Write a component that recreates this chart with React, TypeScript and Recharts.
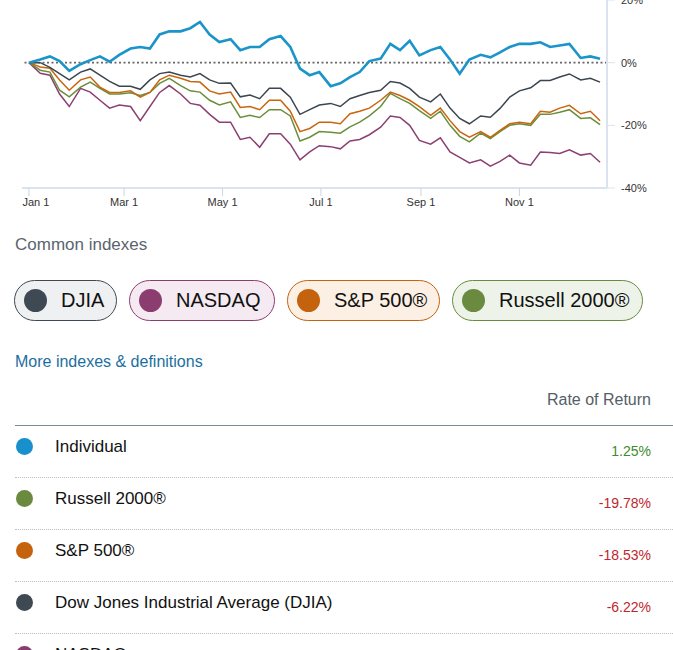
import { LineChart, Line, XAxis, YAxis, ReferenceLine } from 'recharts'

// day of year for each sample (2022, roughly weekly)
const days = [0, 7, 13, 19, 25, 32, 38, 44, 50, 56, 63, 69, 75, 81, 87, 94, 100, 106, 112, 118, 125, 131, 137, 143, 149, 156, 162, 168, 174, 180, 187, 193, 199, 205, 211, 218, 224, 230, 236, 242, 249, 255, 261, 267, 273, 280, 286, 292, 298, 304, 311, 317, 323, 329, 335, 342, 348, 354]

const individual = [0, 1.0, 2, 0.5, -2.6, -0.5, 0.8, 2, 0.3, 2.5, 4.5, 5, 4.5, 9, 10, 10, 11, 13, 9, 6.6, 7.5, 4, 5, 5, 7.5, 8.5, 5, -1.9, -4, -3, -7.5, -6.6, -4.6, -3, 0.5, 1.3, 6, 4, 7, 2.3, 4, 5, 1, -3.5, 1, 2.5, 1.7, 3.3, 5, 6, 6, 6.5, 5, 5.5, 6, 1.5, 2, 1.25]
const djia = [0, 0, -1.5, -3.5, -5.5, -3, -2, -4, -6, -7.5, -7.5, -8.5, -5.5, -3.5, -3, -4, -4.6, -3.5, -5.5, -6.6, -6.5, -10.9, -10.3, -11.5, -8.2, -8.2, -11, -16.5, -15, -13.5, -13, -14, -11.5, -10.5, -9.5, -8.8, -6, -6.5, -8.2, -11, -12.5, -10, -14.5, -17.8, -19.5, -17, -17.4, -14.6, -11, -9, -8, -5.7, -5.7, -4.6, -3.6, -5.5, -5, -6.22]
const sp500 = [0, -1.4, -1.8, -5.5, -8.8, -5.5, -4.6, -7.8, -9.5, -9.5, -9, -11, -9.5, -5.5, -4, -5, -6, -6.2, -9, -10, -9.4, -14.3, -14, -15, -12, -12, -15.5, -22, -21, -19, -19, -19.5, -16.3, -15.5, -14.5, -12, -9.4, -10.5, -12, -14, -16.8, -14.5, -18.5, -22, -23.8, -22, -23.8, -21.6, -19.5, -19, -19.5, -15.5, -15.8, -14.5, -13.6, -16.3, -15.5, -18.53]
const russell = [0, -2.4, -3, -8.8, -10.9, -7.8, -6.2, -8.2, -10, -10, -9.6, -10.5, -9.5, -6.6, -5, -7.3, -9, -9.4, -12, -13.5, -12.5, -17.5, -16.8, -17.5, -15, -15, -17, -25, -23.8, -22, -22.2, -22.5, -20.5, -19, -17, -14, -9.8, -11.5, -13, -15.3, -17.8, -15.5, -20, -23.5, -25.3, -22.5, -24.2, -22, -20, -19.5, -20, -16.5, -16.5, -15.8, -15, -17.8, -17.6, -19.78]
const nasdaq = [0, -3.4, -4, -10, -14, -8.2, -9.4, -12, -14.5, -13.5, -14, -18.5, -14, -9.5, -7.3, -10, -13, -13.6, -16.5, -19, -19, -24.5, -23.8, -27, -22.7, -22.7, -26, -31, -28.5, -26.5, -26.8, -27.5, -25, -24.5, -23, -20.6, -17, -17.5, -20, -24.8, -26, -24, -28.5, -30.2, -32, -31, -33, -31.5, -29.5, -32, -32.7, -28.5, -28.7, -29, -27.8, -29.5, -29, -31.8]

const xTicks = [0, 59, 120, 181, 243, 304]
const xTickLabels = ['Jan 1', 'Mar 1', 'May 1', 'Jul 1', 'Sep 1', 'Nov 1']
const yTicks = [-40, -20, 0, 20]

const pillNames = ['DJIA', 'NASDAQ', 'S&P 500®', 'Russell 2000®']
const pillColors = ['#3e4954', '#8b3d6f', '#c4620e', '#6a8a3f']
const pillBgs = ['#eef0f2', '#f6eaf2', '#fcefe3', '#eef3e9']
const pillWidths = [103, 146, 153, 191]

const rowNames = ['Individual', 'Russell 2000®', 'S&P 500®', 'Dow Jones Industrial Average (DJIA)', 'NASDAQ']
const rowColors = ['#1790cc', '#6a8a3f', '#c4620e', '#3e4954', '#8b3d6f']
const rowValues = ['1.25%', '-19.78%', '-18.53%', '-6.22%', '-31.88%']

const data = days.map((d, i) => ({
  day: d,
  individual: individual[i],
  djia: djia[i],
  sp500: sp500[i],
  russell: russell[i],
  nasdaq: nasdaq[i],
}))

const font = '"Liberation Sans", Arial, sans-serif'

// first label is kept inside the plot, the rest are centred on their tick
function XTick(props: any) {
  const { x, y, payload } = props
  const first = payload.value === xTicks[0]
  return (
    <text x={first ? x - 6.5 : x} y={y} dy="0.71em" textAnchor={first ? 'start' : 'middle'} fill="#333" fontSize={11} fontFamily={font}>
      {xTickLabels[xTicks.indexOf(payload.value)]}
    </text>
  )
}

export default function App() {
  return (
    <div style={{ position: 'relative', width: 673, height: 650, overflow: 'hidden', fontFamily: font, color: '#111' }}>
      <style>{'body{margin:0}'}</style>
      <div style={{ position: 'absolute', top: -10, left: 0 }}>
        <LineChart width={673} height={230} data={data} margin={{ top: 10, right: 0, bottom: 0, left: 22 }}>
          <XAxis
            dataKey="day"
            type="number"
            domain={[-4.3, 358.3]}
            ticks={xTicks}
            height={32}
            tickSize={8}
            tickMargin={2}
            axisLine={{ stroke: '#dbe3f0', strokeWidth: 2 }}
            tickLine={{ stroke: '#c9d5e6' }}
            tick={<XTick />}
          />
          <YAxis
            orientation="right"
            domain={[-40, 20]}
            ticks={yTicks}
            width={66}
            tickSize={8}
            tickMargin={6}
            tickFormatter={(v) => v + '%'}
            axisLine={{ stroke: '#dbe3f0', strokeWidth: 2 }}
            tickLine={{ stroke: '#dbe3f0' }}
            tick={{ fill: '#333', fontSize: 11, fontFamily: font }}
          />
          <ReferenceLine y={0} stroke="#666" strokeWidth={1.6} strokeDasharray="2 2.5" />
          <Line dataKey="nasdaq" stroke="#8c3f72" strokeWidth={1.5} dot={false} type="linear" isAnimationActive={false} />
          <Line dataKey="russell" stroke="#6b8e3a" strokeWidth={1.5} dot={false} type="linear" isAnimationActive={false} />
          <Line dataKey="sp500" stroke="#c8650f" strokeWidth={1.5} dot={false} type="linear" isAnimationActive={false} />
          <Line dataKey="djia" stroke="#3b4651" strokeWidth={1.5} dot={false} type="linear" isAnimationActive={false} />
          <Line dataKey="individual" stroke="#1a94c9" strokeWidth={2.6} dot={false} type="linear" isAnimationActive={false} />
        </LineChart>
      </div>

      <div style={{ position: 'absolute', top: 235, left: 15, fontSize: 17, lineHeight: '20px', color: '#5b646d' }}>Common indexes</div>

      <div style={{ position: 'absolute', top: 280, left: 14, display: 'flex', gap: 12 }}>
        {pillNames.map((n, i) => (
          <div
            key={n}
            style={{
              boxSizing: 'border-box',
              width: pillWidths[i],
              height: 41,
              borderRadius: 21,
              border: '1px solid ' + pillColors[i],
              background: pillBgs[i],
              display: 'flex',
              alignItems: 'center',
              paddingLeft: 9,
            }}
          >
            <span style={{ width: 23, height: 23, borderRadius: '50%', background: pillColors[i], display: 'inline-block', flex: 'none' }} />
            <span style={{ marginLeft: 14, fontSize: 20, color: '#111', whiteSpace: 'nowrap' }}>{n}</span>
          </div>
        ))}
      </div>

      <div style={{ position: 'absolute', top: 352, left: 15, fontSize: 16, lineHeight: '20px', color: '#1b6f9e' }}>More indexes &amp; definitions</div>
      <div style={{ position: 'absolute', top: 390, right: 22, fontSize: 16, lineHeight: '20px', color: '#555e66' }}>Rate of Return</div>
      <div style={{ position: 'absolute', top: 425, left: 15, width: 658, height: 1, background: '#7d8a94' }} />

      {rowNames.map((n, i) => {
        const top = 426 + i * 52
        return (
          <div key={n} style={{ position: 'absolute', top, left: 0, width: 673, height: 52 }}>
            <span style={{ position: 'absolute', left: 16, top: 12, width: 17, height: 17, borderRadius: '50%', background: rowColors[i] }} />
            <span style={{ position: 'absolute', left: 55, top: 11, fontSize: 17, lineHeight: '20px', color: '#111' }}>{n}</span>
            <span style={{ position: 'absolute', right: 22, top: 16, fontSize: 14, lineHeight: '18px', color: i === 0 ? '#3d8a2f' : '#c0262d' }}>{rowValues[i]}</span>
            <div style={{ position: 'absolute', top: 51, left: 15, width: 658, borderTop: '1px dotted #bdbdbd' }} />
          </div>
        )
      })}
    </div>
  )
}
